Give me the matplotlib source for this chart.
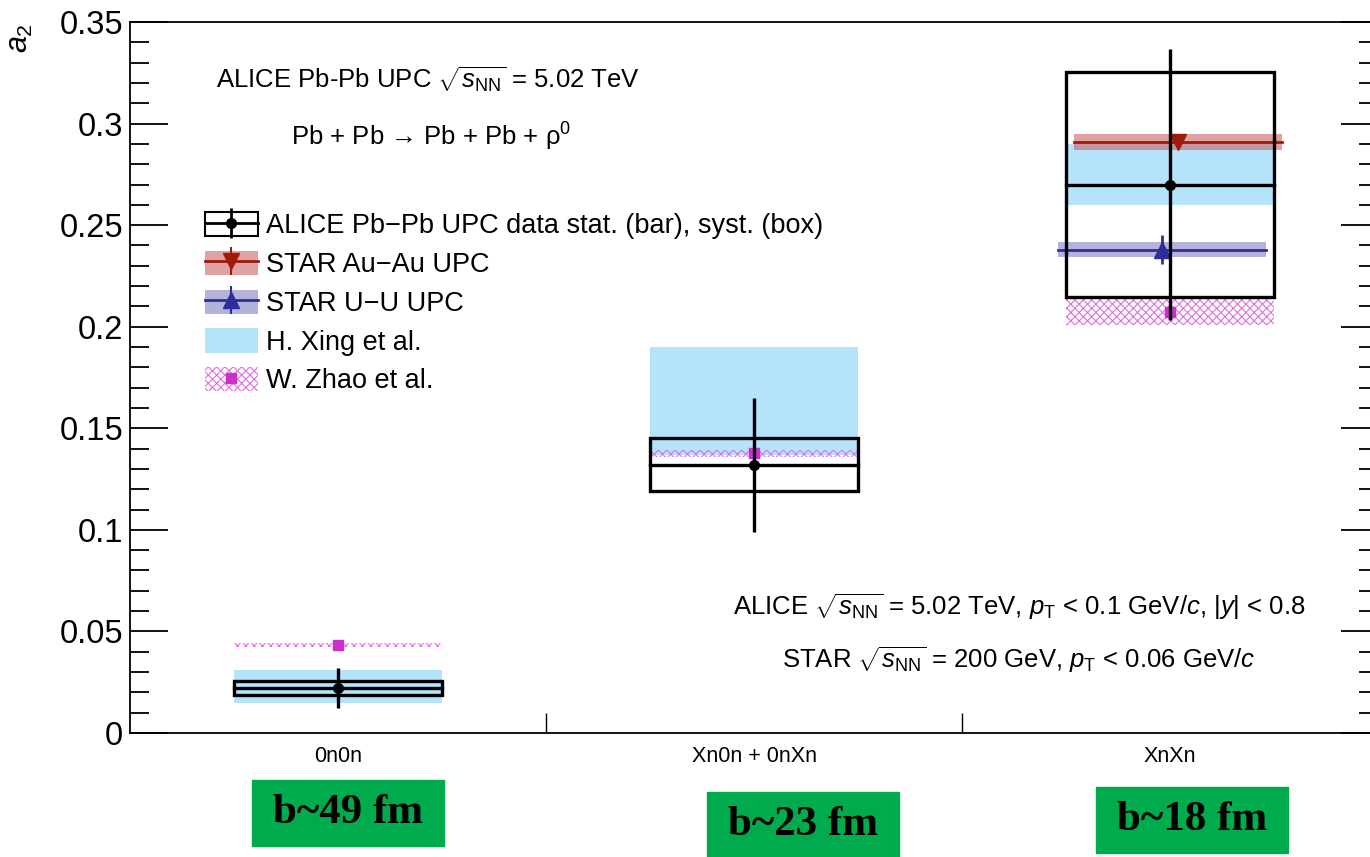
import matplotlib
matplotlib.use("Agg")
import matplotlib.pyplot as plt
from matplotlib.patches import Rectangle, Patch
from matplotlib.lines import Line2D
from matplotlib.legend_handler import HandlerTuple

plt.rcParams['font.family'] = ['Liberation Sans', 'DejaVu Sans']
plt.rcParams['mathtext.fontset'] = 'custom'
plt.rcParams['mathtext.rm'] = 'Liberation Sans'
plt.rcParams['mathtext.it'] = 'Liberation Sans:italic'
plt.rcParams['hatch.linewidth'] = 0.8

# neutron emission classes
classes = ["0n0n", "Xn0n + 0nXn", "XnXn"]
impact = ["b~49 fm", "b~23 fm", "b~18 fm"]

# ALICE a2 with stat and syst uncertainties
alice_val = [0.0222, 0.132, 0.270]
alice_stat = [0.0098, 0.033, 0.0665]
alice_syst = [0.0033, 0.013, 0.0554]

# STAR (only for XnXn)
star_au_val = 0.291
star_au_stat = 0.0015
star_au_syst = 0.004
star_u_val = 0.238
star_u_stat = 0.007
star_u_syst = 0.0037

# model bands
xing_lo = [0.015, 0.137, 0.260]
xing_hi = [0.031, 0.190, 0.290]
zhao_val = [0.0433, 0.1378, 0.207]
zhao_lo = [0.0425, 0.1360, 0.201]
zhao_hi = [0.0441, 0.1395, 0.214]

red_line = '#a01a0a'
red_band = '#c86464'
blue_line = '#2e2e9a'
blue_band = '#8080c4'
xing_col = '#b5e4fa'
zhao_col = '#e070e0'

fig = plt.figure(figsize=(13.7, 8.57), dpi=100)
ax = fig.add_axes([130 / 1370, 1 - 733 / 857, 1248 / 1370, 711 / 857])

xc = [0.5, 1.5, 2.5]
hw = 0.25

# H. Xing et al. bands
ax.bar(xc, [h - l for l, h in zip(xing_lo, xing_hi)], bottom=xing_lo, width=2 * hw,
       color=xing_col, linewidth=0, zorder=1)

# W. Zhao et al. hatched bands + central points
ax.bar(xc, [h - l for l, h in zip(zhao_lo, zhao_hi)], bottom=zhao_lo, width=2 * hw,
       facecolor='none', edgecolor=zhao_col, hatch='xxxx', linewidth=0, zorder=2)
ax.plot(xc, zhao_val, 's', color='#cc30cc', ms=7, zorder=2.5)

# STAR Au-Au and U-U at XnXn, slightly shifted
xa = xc[2] + 0.02
xu = xc[2] - 0.02
ax.add_patch(Rectangle((xa - hw, star_au_val - star_au_syst), 2 * hw, 2 * star_au_syst,
                       color=red_band, alpha=0.6, lw=0, zorder=3))
ax.plot([xa - hw, xa + hw], [star_au_val, star_au_val], color=red_line, lw=2, zorder=3.2)
ax.errorbar(xa, star_au_val, yerr=star_au_stat, fmt='v', color=red_line, ms=11,
            elinewidth=2, capsize=0, zorder=3.3)
ax.add_patch(Rectangle((xu - hw, star_u_val - star_u_syst), 2 * hw, 2 * star_u_syst,
                       color=blue_band, alpha=0.6, lw=0, zorder=3))
ax.plot([xu - hw, xu + hw], [star_u_val, star_u_val], color=blue_line, lw=2, zorder=3.2)
ax.errorbar(xu, star_u_val, yerr=star_u_stat, fmt='^', color=blue_line, ms=11,
            elinewidth=2, capsize=0, zorder=3.3)

# ALICE data: syst boxes, central line, stat bars
for x, v, st, sy in zip(xc, alice_val, alice_stat, alice_syst):
    ax.add_patch(Rectangle((x - hw, v - sy), 2 * hw, 2 * sy, fill=False,
                           edgecolor='black', lw=2.4, zorder=4))
    ax.plot([x - hw, x + hw], [v, v], color='black', lw=2.4, zorder=4)
ax.errorbar(xc, alice_val, yerr=alice_stat, fmt='o', color='black', ms=7,
            elinewidth=2.4, capsize=0, zorder=5)

ax.set_xlim(0, 3)
ax.set_ylim(0, 0.35)
ax.set_yticks([0, 0.05, 0.1, 0.15, 0.2, 0.25, 0.3, 0.35])
ax.set_yticklabels(["0", "0.05", "0.1", "0.15", "0.2", "0.25", "0.3", "0.35"])
ax.set_yticks([i * 0.01 for i in range(36)], minor=True)
ax.tick_params(axis='y', which='major', direction='in', length=27, width=1.3,
               labelsize=23.5, right=True, pad=5)
ax.tick_params(axis='y', which='minor', direction='in', length=13.5, width=1.3, right=True)
ax.set_xticks(xc, classes)
ax.set_xticks([1, 2], minor=True)
ax.tick_params(axis='x', which='major', length=0, labelsize=15.5, pad=9)
ax.tick_params(axis='x', which='minor', direction='in', length=14.5, width=1.0)
for s in ax.spines.values():
    s.set_linewidth(1.3)

fig.text(20 / 1370, 1 - 38 / 857, r"$a_2$", rotation=90, fontsize=22,
         ha='center', va='center')

def ax_pos(px, py):
    return (px - 130) / 1248, (733 - py) / 711

ax.text(*ax_pos(428, 80), r"ALICE Pb-Pb UPC $\sqrt{s_{\mathrm{NN}}}$ = 5.02 TeV",
        transform=ax.transAxes, fontsize=18.5, ha='center', va='center')
ax.text(*ax_pos(431, 137), "Pb + Pb \u2192 Pb + Pb + \u03c1$^{0}$",
        transform=ax.transAxes, fontsize=18.5, ha='center', va='center')
ax.text(*ax_pos(1019, 607),
        r"ALICE $\sqrt{s_{\mathrm{NN}}}$ = 5.02 TeV, $p_{\mathrm{T}}$ < 0.1 GeV/$c$, |$y$| < 0.8",
        transform=ax.transAxes, fontsize=18.5, ha='center', va='center')
ax.text(*ax_pos(1019, 660),
        r"STAR $\sqrt{s_{\mathrm{NN}}}$ = 200 GeV, $p_{\mathrm{T}}$ < 0.06 GeV/$c$",
        transform=ax.transAxes, fontsize=18.5, ha='center', va='center')

# legend
h_alice = (Patch(facecolor='white', edgecolor='black', lw=1.5),
           Line2D([], [], color='black', lw=2, marker='o', ms=7),
           Line2D([], [], color='black', lw=0, marker='|', ms=22, mew=2))
h_au = (Patch(facecolor=red_band, alpha=0.6, lw=0),
        Line2D([], [], color=red_line, lw=2, marker='v', ms=11),
        Line2D([], [], color=red_line, lw=0, marker='|', ms=20, mew=1.5))
h_u = (Patch(facecolor=blue_band, alpha=0.6, lw=0),
       Line2D([], [], color=blue_line, lw=2, marker='^', ms=11),
       Line2D([], [], color=blue_line, lw=0, marker='|', ms=20, mew=1.5))
h_xing = Patch(facecolor=xing_col, lw=0)
h_zhao = (Patch(facecolor='none', edgecolor=zhao_col, hatch='xxxx', lw=0),
          Line2D([], [], color='#cc30cc', lw=0, marker='s', ms=7))
fig.legend([h_alice, h_au, h_u, h_xing, h_zhao],
           ["ALICE Pb\u2212Pb UPC data stat. (bar), syst. (box)", "STAR Au\u2212Au UPC",
            "STAR U\u2212U UPC", "H. Xing et al.", "W. Zhao et al."],
           handler_map={tuple: HandlerTuple(ndivide=1)},
           loc='upper left', bbox_to_anchor=(205 / 1370, 1 - 212 / 857),
           frameon=False, fontsize=19.5, borderpad=0, borderaxespad=0,
           handlelength=1.95, handleheight=1.0, handletextpad=0.3, labelspacing=0.42)

# impact parameter boxes
boxes = [(252, 780), (707, 792), (1096, 787)]
for (bx, by), lab in zip(boxes, impact):
    fig.patches.append(Rectangle((bx / 1370, 1 - (by + 66) / 857), 192 / 1370, 66 / 857,
                                 transform=fig.transFigure, color='#00ab4e', zorder=0))
    fig.text((bx + 96) / 1370, 1 - (by + 33) / 857, lab, fontsize=31, fontweight='bold',
             family='Liberation Serif', ha='center', va='center')

fig.savefig("out.png", dpi=100)
